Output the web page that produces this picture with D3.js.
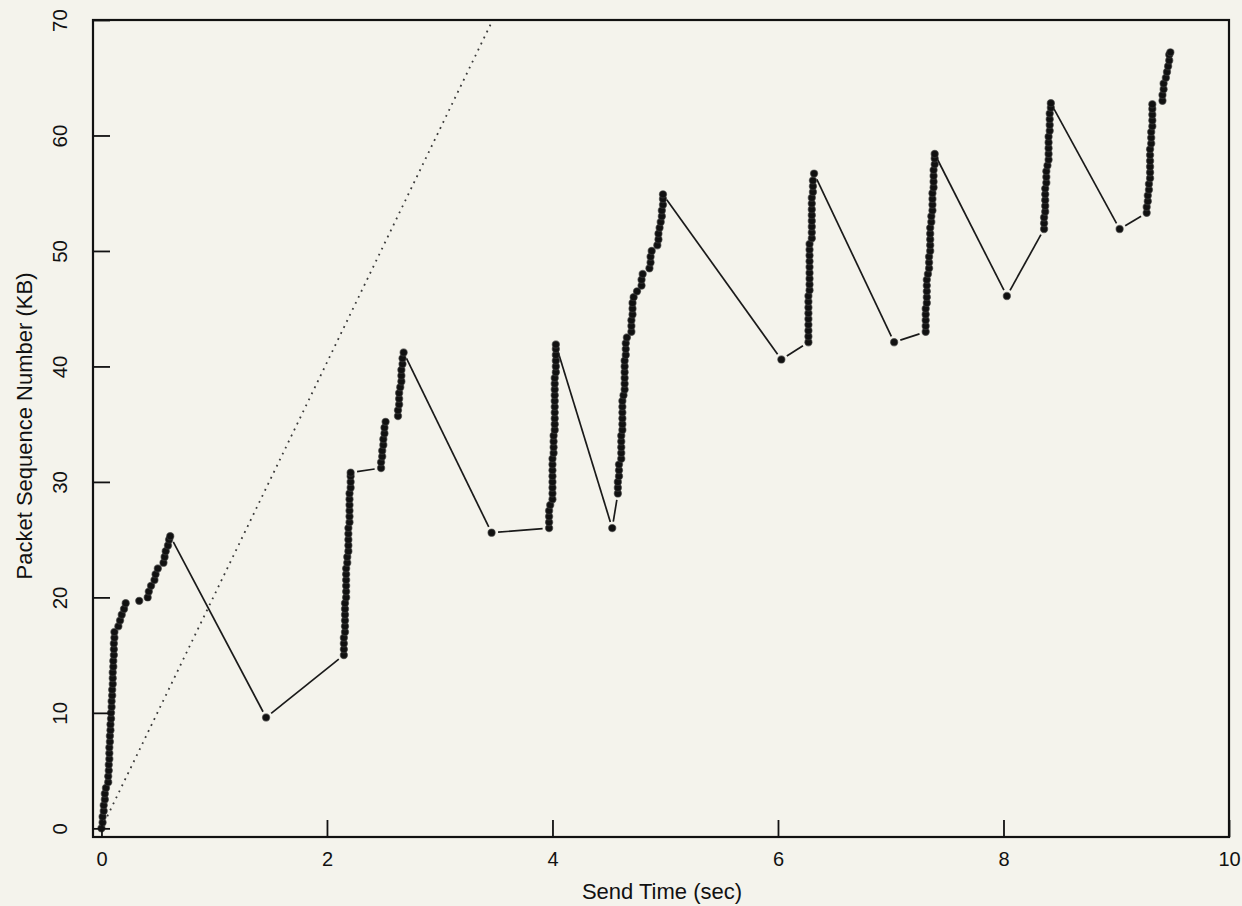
<!DOCTYPE html>
<html>
<head>
<meta charset="utf-8">
<script src="https://cdn.jsdelivr.net/npm/d3@7"></script>
<style>
  html, body { margin: 0; padding: 0; background: #f4f3ec; }
  svg { display: block; }
  text { font-family: "Liberation Sans", Arial, Helvetica, sans-serif; fill: #111; }
</style>
</head>
<body>
<svg id="chart" width="1242" height="906"></svg>
<script>
// ---------- data ----------
const xTicks = [0, 2, 4, 6, 8, 10];
const yTicks = [0, 10, 20, 30, 40, 50, 60, 70];
const xTitle = "Send Time (sec)";
const yTitle = "Packet Sequence Number (KB)";

// dotted reference line
const referenceLine = [[0.0, 0.0], [3.47, 70.0]];

// packets: [send time (sec), sequence number (KB)]
const startup = [
  [0.00,0.0],[0.01,0.5],[0.01,1.0],[0.02,1.5],[0.02,2.0],[0.03,2.5],[0.03,3.0],[0.04,3.5],
  [0.06,4.0],[0.06,4.5],[0.065,5.0],[0.065,5.5],[0.07,6.0],[0.07,6.5],[0.07,7.0],[0.075,7.5],
  [0.075,8.0],[0.08,8.5],[0.08,9.0],[0.085,9.5],[0.085,10.0],
  [0.09,10.5],[0.09,11.0],[0.095,11.5],[0.095,12.0],[0.10,12.5],[0.10,13.0],[0.10,13.5],
  [0.105,14.0],[0.105,14.5],[0.11,15.0],[0.11,15.5],[0.11,16.0],[0.115,16.5],[0.115,17.0],
  [0.15,17.5],[0.165,18.0],[0.18,18.5],[0.20,19.0],[0.215,19.5],
  [0.335,19.7],
  [0.41,20.0],[0.42,20.5],[0.44,21.0],[0.47,21.5],[0.48,22.0],[0.50,22.5],
  [0.55,23.0],[0.56,23.5],[0.57,24.0],[0.59,24.5],[0.60,25.0],[0.61,25.3]
];
const retransmit1 = [[1.46, 9.6]];
const burst2 = [
  [2.15,15.0],[2.15,15.5],[2.15,16.0],[2.15,16.5],[2.16,17.0],[2.16,17.5],[2.16,18.0],[2.16,18.5],
  [2.16,19.0],[2.16,19.5],[2.17,20.0],[2.17,20.5],[2.17,21.0],[2.17,21.5],[2.17,22.0],[2.17,22.5],
  [2.18,23.0],[2.18,23.5],[2.19,24.0],[2.19,24.5],[2.19,25.0],[2.19,25.5],[2.19,26.0],[2.20,26.5],
  [2.20,27.0],[2.20,27.5],[2.20,28.0],[2.20,28.5],[2.20,29.0],[2.21,29.5],[2.21,30.0],[2.21,30.5],[2.21,30.8],
  [2.48,31.2],[2.48,31.7],[2.49,32.2],[2.49,32.7],[2.50,33.2],[2.50,33.7],[2.51,34.2],[2.51,34.7],[2.52,35.2],
  [2.63,35.7],[2.63,36.2],[2.64,36.7],[2.64,37.2],[2.64,37.7],[2.65,38.2],[2.66,38.7],[2.66,39.2],
  [2.66,39.7],[2.67,40.2],[2.67,40.7],[2.68,41.2]
];
const retransmit2 = [[3.46, 25.6]];
const burst3 = [
  [3.97,26.0],[3.97,26.5],[3.97,27.0],[3.97,27.5],[3.98,28.0],[4.00,28.5],[4.00,29.0],[4.00,29.5],
  [4.00,30.0],[4.00,30.5],[4.00,31.0],[4.00,31.5],[4.00,32.0],[4.01,32.5],[4.01,33.0],[4.01,33.5],
  [4.01,34.0],[4.02,34.5],[4.02,35.0],[4.02,35.5],[4.02,36.0],[4.02,36.5],[4.02,37.0],[4.02,37.5],
  [4.02,38.0],[4.02,38.5],[4.02,39.0],[4.03,39.5],[4.03,40.0],[4.03,40.5],[4.03,41.0],[4.03,41.5],[4.03,41.9]
];
const retransmit3 = [[4.53, 26.0]];
const burst4 = [
  [4.58,29.0],[4.58,29.5],[4.58,30.0],[4.59,30.5],[4.59,31.0],[4.59,31.5],[4.61,32.0],[4.61,32.5],
  [4.61,33.0],[4.61,33.5],[4.61,34.0],[4.62,34.5],[4.62,35.0],[4.62,35.5],[4.62,36.0],[4.62,36.5],
  [4.62,37.0],[4.63,37.5],[4.64,38.0],[4.64,38.5],[4.64,39.0],[4.64,39.5],[4.64,40.0],[4.64,40.5],
  [4.65,41.0],[4.65,41.5],[4.65,42.0],[4.66,42.5],[4.70,43.0],[4.70,43.5],[4.70,44.0],[4.71,44.5],
  [4.71,45.0],[4.71,45.5],[4.72,46.0],[4.75,46.5],[4.79,47.0],[4.79,47.5],[4.80,48.0],[4.86,48.5],
  [4.87,49.0],[4.87,49.5],[4.88,50.0],[4.93,50.5],[4.94,51.0],[4.94,51.5],[4.95,52.0],[4.96,52.5],
  [4.97,53.0],[4.97,53.5],[4.98,54.0],[4.98,54.5],[4.98,54.9]
];
const retransmit4 = [[6.03, 40.6]];
const burst5 = [
  [6.27,42.1],[6.27,42.6],[6.27,43.1],[6.27,43.6],[6.27,44.1],[6.27,44.6],[6.27,45.1],[6.27,45.6],
  [6.27,46.1],[6.28,46.6],[6.28,47.1],[6.28,47.6],[6.28,48.1],[6.28,48.6],[6.28,49.1],[6.28,49.6],
  [6.28,50.1],[6.28,50.6],[6.30,51.1],[6.30,51.6],[6.30,52.1],[6.30,52.6],[6.30,53.1],[6.30,53.6],
  [6.30,54.1],[6.30,54.6],[6.31,55.1],[6.31,55.6],[6.31,56.1],[6.32,56.7]
];
const retransmit5 = [[7.03, 42.1]];
const burst6 = [
  [7.31,43.0],[7.31,43.5],[7.31,44.0],[7.31,44.5],[7.31,45.0],[7.32,45.5],[7.32,46.0],[7.32,46.5],
  [7.32,47.0],[7.32,47.5],[7.33,48.0],[7.34,48.5],[7.34,49.0],[7.34,49.5],[7.35,50.0],[7.35,50.5],
  [7.35,51.0],[7.35,51.5],[7.35,52.0],[7.36,52.5],[7.36,53.0],[7.37,53.5],[7.37,54.0],[7.37,54.5],
  [7.37,55.0],[7.38,55.5],[7.38,56.0],[7.38,56.5],[7.38,57.0],[7.39,57.5],[7.39,58.0],[7.39,58.4]
];
const retransmit6 = [[8.03, 46.1]];
const burst7 = [
  [8.36,51.9],[8.36,52.4],[8.36,52.9],[8.37,53.4],[8.37,53.9],[8.37,54.4],[8.37,54.9],[8.37,55.4],
  [8.38,55.9],[8.38,56.4],[8.38,56.9],[8.39,57.4],[8.40,57.9],[8.40,58.4],[8.40,58.9],[8.40,59.4],
  [8.40,59.9],[8.41,60.4],[8.41,60.9],[8.41,61.4],[8.41,61.9],[8.42,62.4],[8.42,62.8]
];
const retransmit7 = [[9.03, 51.9]];
const burst8 = [
  [9.27,53.3],[9.27,53.8],[9.28,54.3],[9.28,54.8],[9.29,55.3],[9.29,55.8],[9.30,56.3],[9.30,56.8],
  [9.30,57.3],[9.30,57.8],[9.30,58.3],[9.30,58.8],[9.31,59.3],[9.31,59.8],[9.31,60.3],[9.32,60.8],
  [9.32,61.3],[9.32,61.8],[9.32,62.3],[9.32,62.7],
  [9.41,63.0],[9.41,63.5],[9.42,64.0],[9.42,64.5],[9.44,65.0],[9.45,65.5],[9.46,66.0],[9.47,66.5],
  [9.47,67.0],[9.48,67.2]
];

const packets = [].concat(startup, retransmit1, burst2, retransmit2, burst3, retransmit3,
  burst4, retransmit4, burst5, retransmit5, burst6, retransmit6, burst7, retransmit7, burst8);

// ---------- layout ----------
const W = 1242, H = 906;
const plot = { left: 93, right: 1229, top: 20, bottom: 837 };

const svg = d3.select("#chart");
svg.append("rect").attr("width", W).attr("height", H).attr("fill", "#f4f3ec");

const x = d3.scaleLinear().domain([-0.075, 10]).range([plot.left, plot.right]);
const y = d3.scaleLinear().domain([-0.75, 70]).range([plot.bottom, plot.top]);

// dotted reference line
svg.append("path")
  .datum(referenceLine)
  .attr("d", d3.line().x(d => x(d[0])).y(d => y(d[1])))
  .attr("fill", "none")
  .attr("stroke", "#3a3a3a")
  .attr("stroke-width", 1.8)
  .attr("stroke-dasharray", "1.8,4.9");

// connecting lines, trimmed near each marker
const gap = 6.5;
const segs = [];
for (let i = 1; i < packets.length; i++) {
  const x1 = x(packets[i-1][0]), y1 = y(packets[i-1][1]);
  const x2 = x(packets[i][0]), y2 = y(packets[i][1]);
  const d = Math.hypot(x2 - x1, y2 - y1);
  if (d > 2 * gap + 1) {
    const ux = (x2 - x1) / d, uy = (y2 - y1) / d;
    segs.push([x1 + ux * gap, y1 + uy * gap, x2 - ux * gap, y2 - uy * gap]);
  }
}
svg.append("g").selectAll("line").data(segs).join("line")
  .attr("x1", d => d[0]).attr("y1", d => d[1])
  .attr("x2", d => d[2]).attr("y2", d => d[3])
  .attr("stroke", "#1a1a1a").attr("stroke-width", 1.7);

// markers
svg.append("g").selectAll("circle").data(packets).join("circle")
  .attr("cx", d => x(d[0])).attr("cy", d => y(d[1]))
  .attr("r", 3.6)
  .attr("fill", "#111")
  .attr("stroke", "rgba(60,60,60,0.6)")
  .attr("stroke-width", 1.2);

// frame
svg.append("rect")
  .attr("x", plot.left).attr("y", plot.top)
  .attr("width", plot.right - plot.left).attr("height", plot.bottom - plot.top)
  .attr("fill", "none").attr("stroke", "#111").attr("stroke-width", 2.2);

// axes (inward ticks)
const xAxis = d3.axisBottom(x).tickValues(xTicks).tickSizeInner(-17).tickSizeOuter(0).tickPadding(14)
  .tickFormat(d3.format("d"));
const gx = svg.append("g").attr("transform", `translate(0,${plot.bottom})`).call(xAxis);
gx.select(".domain").remove();
gx.selectAll(".tick line").attr("stroke", "#111").attr("stroke-width", 1.8);
gx.selectAll(".tick text")
  .attr("font-size", 20).attr("font-family", "Liberation Sans, Arial, sans-serif")
  .attr("fill", "#111").attr("dy", null).attr("y", 29);

const yAxis = d3.axisLeft(y).tickValues(yTicks).tickSizeInner(-17).tickSizeOuter(0)
  .tickFormat(d3.format("d"));
const gy = svg.append("g").attr("transform", `translate(${plot.left},0)`).call(yAxis);
gy.select(".domain").remove();
gy.selectAll(".tick line").attr("stroke", "#111").attr("stroke-width", 1.8);
gy.selectAll(".tick text").remove();
gy.selectAll(".tick").append("text")
  .attr("transform", "translate(-26,0) rotate(-90)")
  .attr("text-anchor", "middle")
  .attr("font-size", 20.5)
  .attr("font-family", "Liberation Sans, Arial, sans-serif")
  .attr("fill", "#111")
  .text(d => d);

// titles
svg.append("text")
  .attr("x", 662).attr("y", 899)
  .attr("text-anchor", "middle")
  .attr("font-size", 22)
  .text(xTitle);
svg.append("text")
  .attr("transform", "translate(32,426) rotate(-90)")
  .attr("text-anchor", "middle")
  .attr("font-size", 22)
  .text(yTitle);
</script>
</body>
</html>
